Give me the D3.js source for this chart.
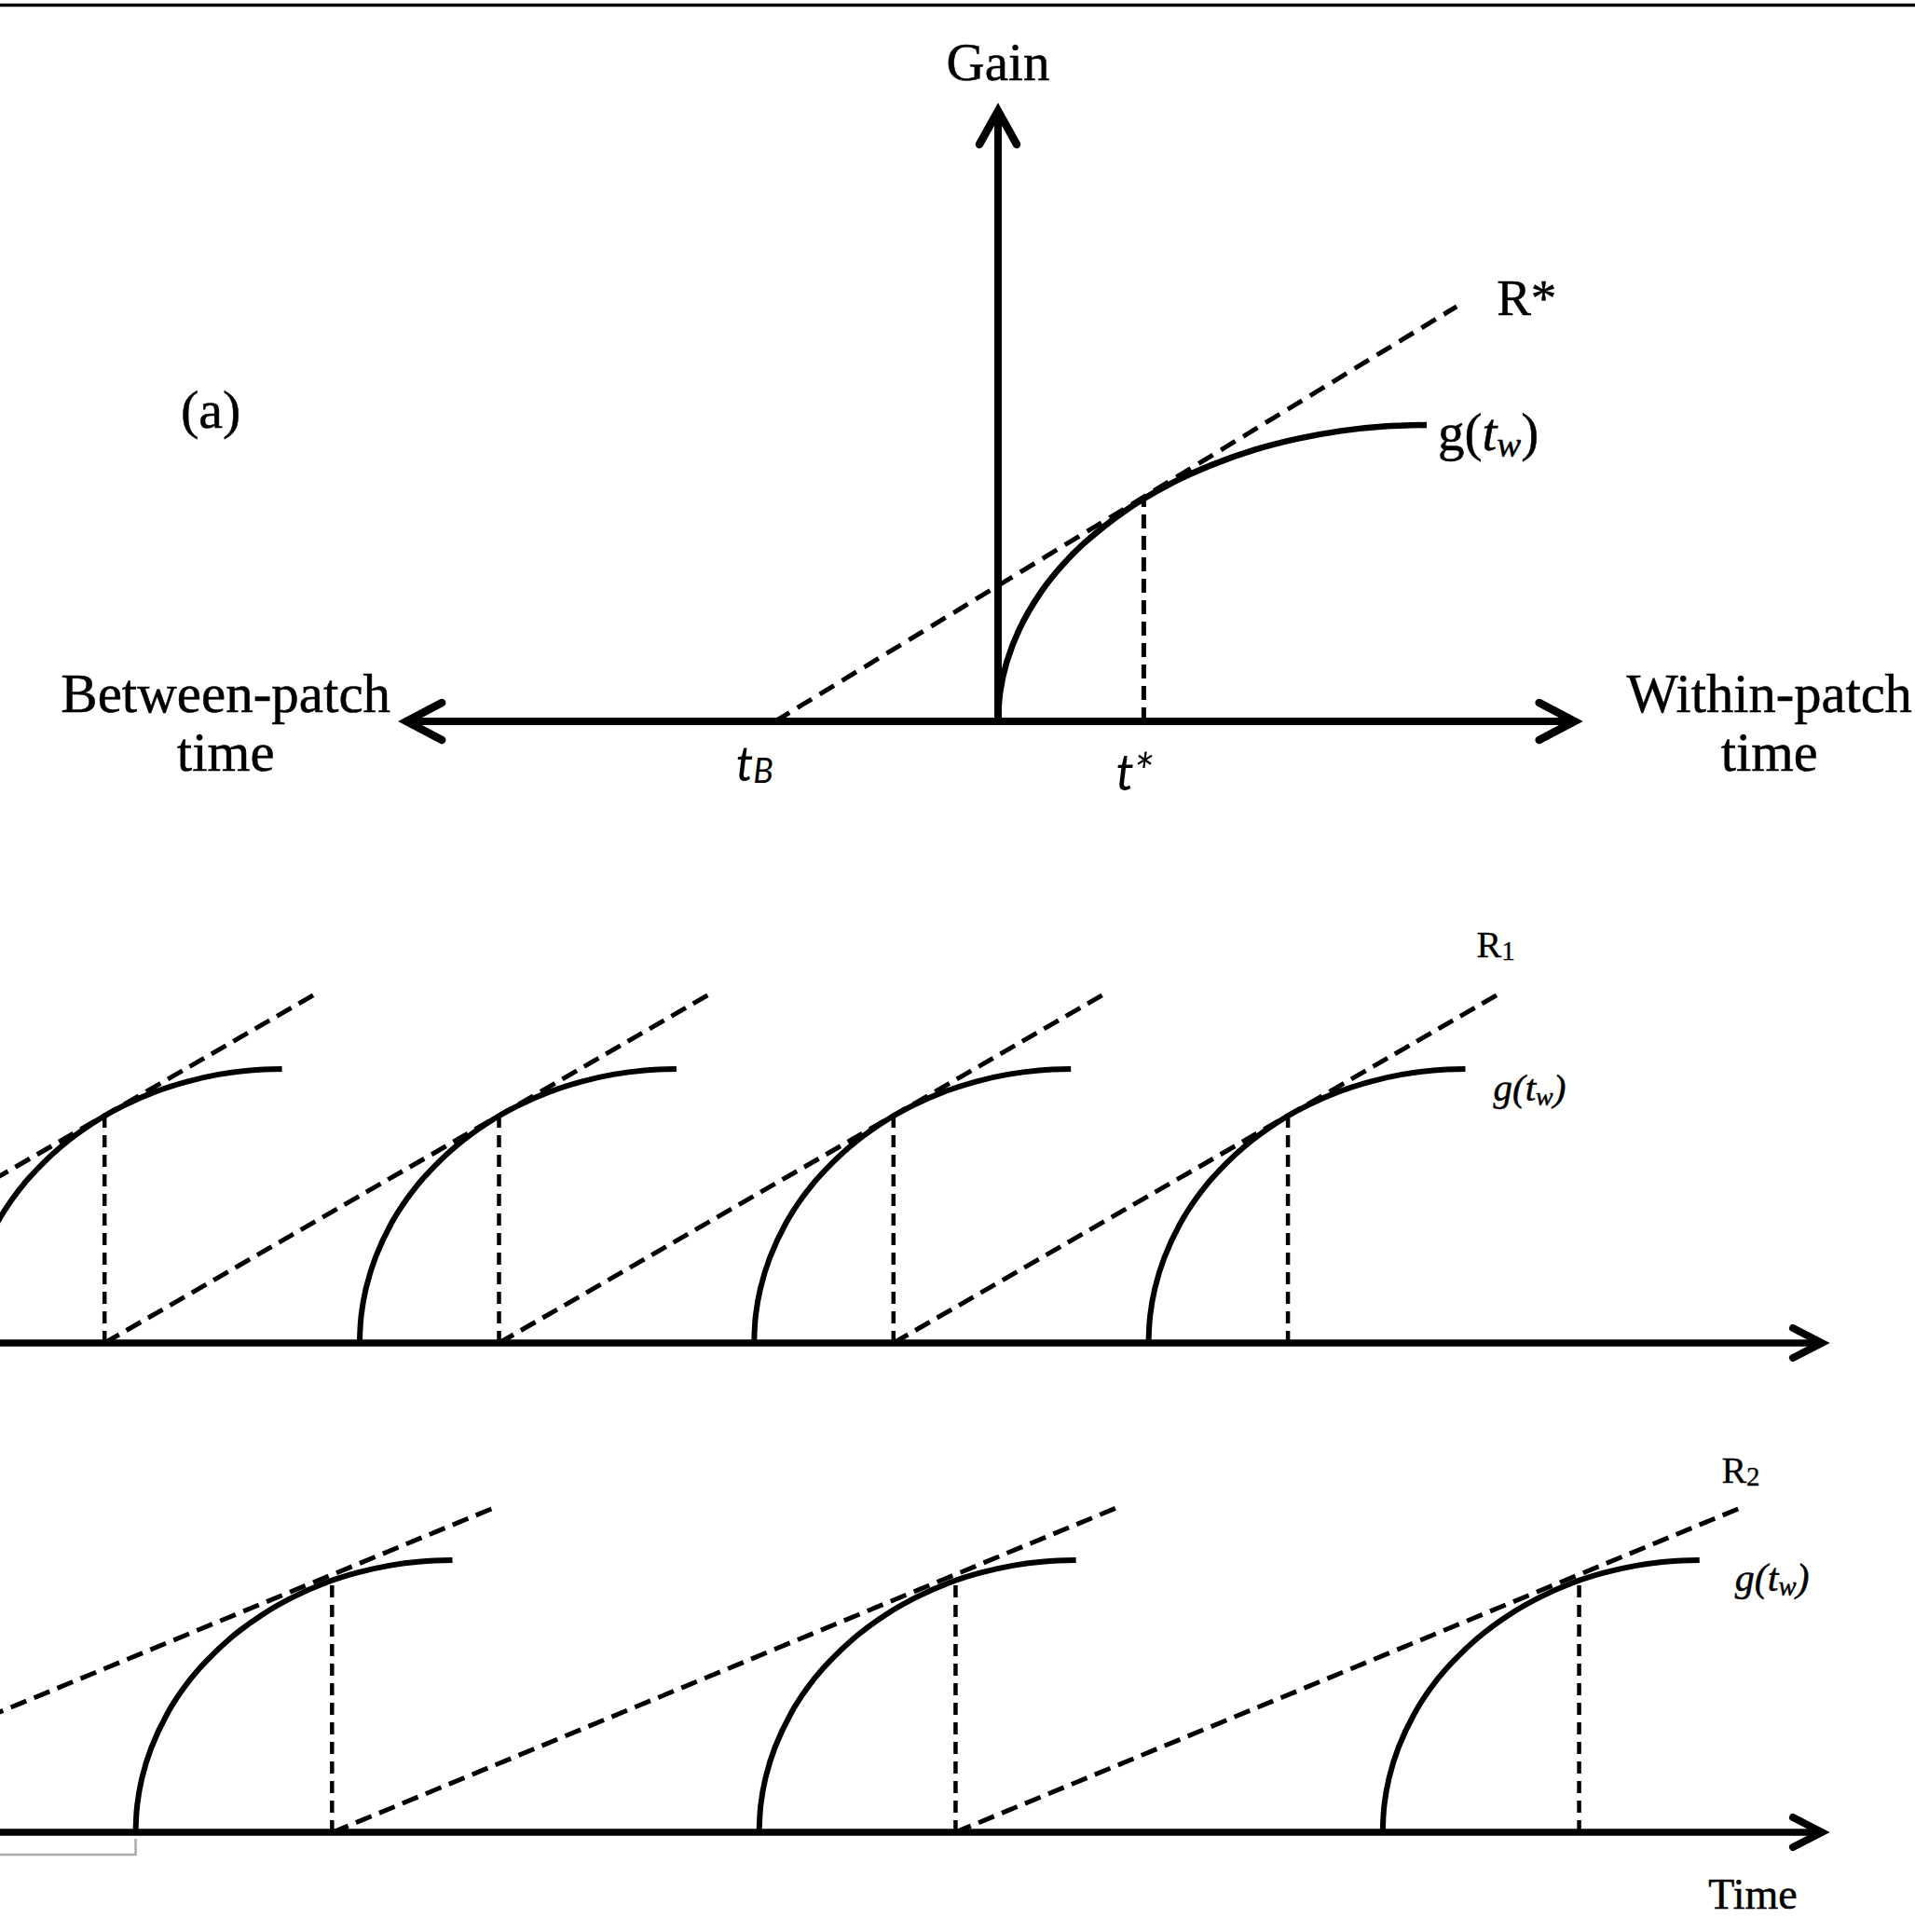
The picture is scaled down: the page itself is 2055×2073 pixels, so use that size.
<!DOCTYPE html>
<html>
<head>
<meta charset="utf-8">
<script src="https://cdn.jsdelivr.net/npm/d3@7"></script>
<style>
  body { margin: 0; background: #fff; }
  svg { display: block; }
  .serif { font-family: "Liberation Serif", "Times New Roman", serif; fill: #000; stroke: #000; stroke-width: 0.5px; }
  .sans { font-family: Lato, "Open Sans", sans-serif; font-style: italic; fill: #000; }
</style>
</head>
<body>
<div id="visContainerDiv"></div>
<script>
// gain curve g(t_w), same shape in all three panels
var gainT = [0, 0.05, 0.2, 0.5, 1, 1.5, 2, 3, 4, 5, 6, 7, 8, 9, 10];
var gainG = [0, 1.00, 1.99, 3.12, 4.36, 5.27, 6.00, 7.14, 8.00, 8.66, 9.17, 9.54, 9.80, 9.95, 10];

// panel (a): marginal value theorem
var aTStar = 3.4, aGStar = 7.5;
var aTB = -5.2;
var aRStar = [[-5.2, 0], [10.7, 14.0]];
var aAxisX = [-13.8, 13.45];
var aAxisTop = 20.6;

// panel (b): short travel -> R1
var bArrive = [-1.1, 11.35, 23.8, 36.25];
var bStay = 4.4, bGStay = 8.3;
var bR1 = [[-9.15, 0, 10.05, 12.8], [3.3, 0, 22.5, 12.8], [15.75, 0, 34.95, 12.8], [28.2, 0, 47.4, 12.8]];

// panel (c): long travel -> R2
var cArrive = [4.28, 23.96, 43.64];
var cStay = 6.2, cGStay = 9.25;
var cR2 = [[-9.2, 0, 15.75, 12.0], [10.5, 0, 35.4, 12.0], [30.15, 0, 55.1, 12.0]];

var timeAxis = [0, 57.5];

var W = 2055, H = 2073;
var gainPts = gainT.map(function(t, i) { return [t, gainG[i]]; });

var svg = d3.select("#visContainerDiv").append("svg")
  .attr("width", W).attr("height", H);

// frame line at the very top
svg.append("line")
  .attr("x1", 0).attr("x2", W).attr("y1", 5.5).attr("y2", 5.5)
  .attr("stroke", "#000").attr("stroke-width", 3.5);

function arrowHead(g, x, y, dir, len, half, sw) {
  var p;
  if (dir == "right") p = [[x - len, y - half], [x, y], [x - len, y + half]];
  if (dir == "left") p = [[x + len, y - half], [x, y], [x + len, y + half]];
  if (dir == "up") p = [[x - half, y + len], [x, y], [x + half, y + len]];
  g.append("path")
    .attr("d", d3.line()(p))
    .attr("fill", "none").attr("stroke", "#000")
    .attr("stroke-width", sw)
    .attr("stroke-linecap", "round").attr("stroke-linejoin", "miter");
}

function gainCurve(g, x, y, t0, sw) {
  g.append("path")
    .datum(gainPts)
    .attr("d", d3.line()
      .x(function(d) { return x(t0 + d[0]); })
      .y(function(d) { return y(d[1]); })
      .curve(d3.curveCatmullRom.alpha(0.5)))
    .attr("fill", "none").attr("stroke", "#000")
    .attr("stroke-width", sw).attr("stroke-linecap", "butt");
}

function dashed(g, x1, y1, x2, y2, sw, dash) {
  g.append("line")
    .attr("x1", x1).attr("y1", y1).attr("x2", x2).attr("y2", y2)
    .attr("stroke", "#000").attr("stroke-width", sw)
    .attr("stroke-dasharray", dash);
}

function gtw(g, x, y, size, italic) {
  var t = g.append("text").attr("class", "serif")
    .attr("x", x).attr("y", y).attr("font-size", size)
    .style("font-style", italic ? "italic" : "normal");
  t.append("tspan").text("g(");
  t.append("tspan").text("t").style("font-style", "italic");
  t.append("tspan").text("w").style("font-style", "italic")
    .attr("font-size", size * 0.68).attr("dy", size * 0.12);
  t.append("tspan").text(")").attr("dy", -size * 0.12);
}

/* ---------- panel (a) ---------- */
var xa = d3.scaleLinear().domain([0, 10]).range([1071, 1531]);
var ya = d3.scaleLinear().domain([0, 10]).range([774, 456]);
var ga = svg.append("g");

dashed(ga, xa(aRStar[0][0]), ya(aRStar[0][1]), xa(aRStar[1][0]), ya(aRStar[1][1]), 5, "18 10");
dashed(ga, xa(aTStar), ya(0), xa(aTStar), ya(aGStar), 5, "15 8");

ga.append("line")
  .attr("x1", xa(aAxisX[0])).attr("x2", xa(aAxisX[1]))
  .attr("y1", ya(0)).attr("y2", ya(0))
  .attr("stroke", "#000").attr("stroke-width", 8);
ga.append("line")
  .attr("x1", xa(0)).attr("x2", xa(0))
  .attr("y1", ya(0)).attr("y2", ya(aAxisTop))
  .attr("stroke", "#000").attr("stroke-width", 8);
arrowHead(ga, xa(aAxisX[0]), ya(0), "left", 38, 20, 8.5);
arrowHead(ga, xa(aAxisX[1]), ya(0), "right", 38, 20, 8.5);
arrowHead(ga, xa(0), ya(aAxisTop), "up", 36, 20, 8.5);

gainCurve(ga, xa, ya, 0, 6.5);

ga.append("text").attr("class", "serif")
  .attr("x", xa(0)).attr("y", 86).attr("text-anchor", "middle")
  .attr("font-size", 57).text("Gain");
ga.append("text").attr("class", "serif")
  .attr("x", 194).attr("y", 459).attr("font-size", 58).text("(a)");

var lab = ga.append("text").attr("class", "serif")
  .attr("text-anchor", "middle").attr("font-size", 59);
lab.append("tspan").attr("x", xa(aAxisX[0]) - 194).attr("y", 764).text("Between-patch");
lab.append("tspan").attr("x", xa(aAxisX[0]) - 194).attr("y", 827).text("time");
lab = ga.append("text").attr("class", "serif")
  .attr("text-anchor", "middle").attr("font-size", 58.5);
lab.append("tspan").attr("x", xa(aAxisX[1]) + 209).attr("y", 764).text("Within-patch");
lab.append("tspan").attr("x", xa(aAxisX[1]) + 209).attr("y", 827).text("time");

var tb = ga.append("text").attr("class", "sans")
  .attr("x", xa(aTB) - 42).attr("y", 838).attr("font-size", 52);
tb.append("tspan").text("t");
tb.append("tspan").text("B").attr("font-size", 36).attr("dy", 2);
ga.append("text").attr("class", "sans")
  .attr("x", xa(aTStar) - 30).attr("y", 848).attr("font-size", 54).text("t*");

ga.append("text").attr("class", "serif")
  .attr("x", xa(aRStar[1][0]) + 43).attr("y", ya(aRStar[1][1]) + 9)
  .attr("font-size", 55).text("R*");
gtw(ga, xa(10) + 12, ya(10) + 27, 57, false);

/* ---------- panels (b) and (c) share the time scale ---------- */
var xt = d3.scaleLinear().domain([0, 60]).range([0, 2040]);
var yb = d3.scaleLinear().domain([0, 10]).range([1441, 1147]);
var yc = d3.scaleLinear().domain([0, 10]).range([1966, 1674]);

function timePanel(y, arrive, stay, gStay, rLines, rName, lblDx, lblDy) {
  var g = svg.append("g");
  rLines.forEach(function(d) {
    dashed(g, xt(d[0]), y(d[1]), xt(d[2]), y(d[3]), 5, "18 9");
  });
  arrive.forEach(function(t0) {
    dashed(g, xt(t0 + stay), y(0), xt(t0 + stay), y(gStay), 4.5, "13 8");
  });
  g.append("line")
    .attr("x1", xt(timeAxis[0])).attr("x2", xt(timeAxis[1]))
    .attr("y1", y(0)).attr("y2", y(0))
    .attr("stroke", "#000").attr("stroke-width", 7.5);
  arrowHead(g, xt(timeAxis[1]), y(0), "right", 31, 16, 8);
  arrive.forEach(function(t0) { gainCurve(g, xt, y, t0, 6); });

  var last = rLines[rLines.length - 1];
  var r = g.append("text").attr("class", "serif").style("stroke-width", "0.3px")
    .attr("x", xt(last[2]) + lblDx).attr("y", y(last[3]) + lblDy)
    .attr("font-size", 40);
  r.append("tspan").text("R");
  r.append("tspan").text(rName).attr("font-size", 29).attr("dy", 3);
  return g;
}

var gb = timePanel(yb, bArrive, bStay, bGStay, bR1, "1", -27, -38);
gtw(gb, xt(bArrive[bArrive.length - 1] + 10) + 30, yb(10) + 34, 41, true);

var gc = timePanel(yc, cArrive, cStay, cGStay, cR2, "2", -26, -25);
gtw(gc, xt(cArrive[cArrive.length - 1] + 10) + 38, yc(10) + 33, 42, true);

gc.append("text").attr("class", "serif")
  .attr("x", xt(timeAxis[1]) - 74).attr("y", 2048)
  .attr("text-anchor", "middle").attr("font-size", 46).text("Time");

// faint grey bracket left under the lower axis
gc.append("path")
  .attr("d", d3.line()([[xt(0), yc(0) + 24], [xt(cArrive[0]), yc(0) + 24], [xt(cArrive[0]), yc(0) + 7]]))
  .attr("fill", "none").attr("stroke", "#aaa").attr("stroke-width", 2.5);
</script>
</body>
</html>
